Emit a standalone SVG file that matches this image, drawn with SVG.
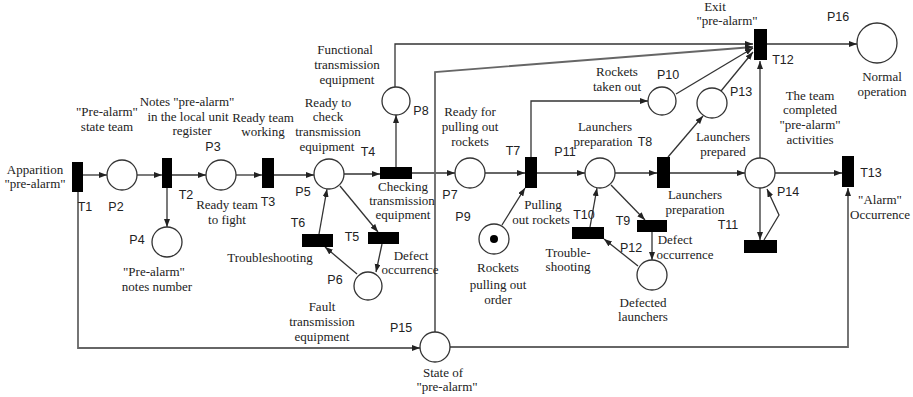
<svg xmlns="http://www.w3.org/2000/svg" width="913" height="397" viewBox="0 0 913 397">
<defs>
<marker id="ar" markerUnits="userSpaceOnUse" markerWidth="9" markerHeight="7" refX="8" refY="3" orient="auto">
<path d="M0,0 L8,3 L0,6 z" fill="#222"/>
</marker>
<style>
.pl{fill:#fff;stroke:#333;stroke-width:1.3}
.tr{fill:#000}
.c{fill:none;stroke:#333;stroke-width:1.3;marker-end:url(#ar)}
.n{fill:none;stroke:#333;stroke-width:1.3}
.f{fill:none;stroke:#666;stroke-width:1.8}
.fa{fill:none;stroke:#666;stroke-width:1.8;marker-end:url(#ar)}
.d{font-family:"Liberation Serif",serif;font-size:13px;fill:#222;text-anchor:middle}
.l{font-family:"Liberation Sans",Arial,sans-serif;font-size:12.5px;fill:#222;text-anchor:middle}
</style>
</defs>
<rect width="913" height="397" fill="#fff"/>

<g id="connectors">
<path class="c" d="M83,175 L107,175"/>
<path class="c" d="M137,175 L162,175"/>
<path class="c" d="M172,175 L206,175"/>
<path class="c" d="M236,175 L262,175"/>
<path class="c" d="M274,175 L314,175"/>
<path class="c" d="M344,174 L380,174"/>
<path class="c" d="M412,173 L455,173"/>
<path class="c" d="M485,173 L525,173"/>
<path class="c" d="M537,173 L585,173"/>
<path class="c" d="M615,173 L657,173"/>
<path class="c" d="M670,173 L745,173"/>
<path class="c" d="M775,173 L842,173"/>
<path class="c" d="M167,188 L167,227"/>
<path class="c" d="M396,167 L396,115"/>
<path class="c" d="M395,87 L395,44 L753,44"/>
<path class="c" d="M340,186 L378,232"/>
<path class="c" d="M382,244 L376,272"/>
<path class="c" d="M357,274 L325,247"/>
<path class="c" d="M319,234 L327,189"/>
<path class="c" d="M531,157 L531,101 L648,101"/>
<path class="c" d="M502,225 L525,188"/>
<path class="c" d="M676,94 L753,48"/>
<path class="c" d="M721,91 L753,52"/>
<path class="c" d="M668,157 L703,116"/>
<path class="c" d="M760,158 L760,61"/>
<path class="c" d="M767,44 L857,44"/>
<path class="c" d="M611,185 L645,220"/>
<path class="c" d="M652,232 L652,260"/>
<path class="c" d="M638,266 L604,239"/>
<path class="c" d="M590,227 L597,188"/>
<path class="c" d="M760,188 L760,240"/>
<path class="c" d="M764,240 L779,215 L767,189"/>
<path class="fa" d="M78,192 L78,348 L420,348"/>
<path class="fa" d="M450,347 L848,347 L848,188"/>
<path class="fa" d="M435,332 L435,72 L753,47"/>
</g>

<g id="T1"><rect class="tr" x="72" y="162" width="11" height="30"/><text class="l" x="85" y="211">T1</text>
<text class="d" x="35" y="174">Apparition</text><text class="d" x="35" y="188">"pre-alarm"</text></g>
<g id="P2"><circle class="pl" cx="122" cy="175" r="15"/><text class="l" x="116" y="211">P2</text>
<text class="d" x="107" y="116">"Pre-alarm"</text><text class="d" x="107" y="131">state team</text></g>
<g id="T2"><rect class="tr" x="162" y="158" width="10" height="30"/><text class="l" x="186" y="199">T2</text>
<text class="d" x="187" y="106">Notes "pre-alarm"</text><text class="d" x="188" y="121">in the local unit</text><text class="d" x="192" y="135">register</text></g>
<g id="P3"><circle class="pl" cx="221" cy="175" r="15"/><text class="l" x="213" y="151">P3</text>
<text class="d" x="227" y="209">Ready team</text><text class="d" x="227" y="224">to fight</text></g>
<g id="P4"><circle class="pl" cx="167" cy="242" r="15"/><text class="l" x="137" y="244">P4</text>
<text class="d" x="154" y="276">"Pre-alarm"</text><text class="d" x="157" y="291">notes number</text></g>
<g id="T3"><rect class="tr" x="262" y="158" width="12" height="30"/><text class="l" x="268" y="206">T3</text>
<text class="d" x="263" y="122">Ready team</text><text class="d" x="263" y="136">working</text></g>
<g id="P5"><circle class="pl" cx="329" cy="174" r="15"/><text class="l" x="303" y="196">P5</text>
<text class="d" x="328" y="107">Ready to</text><text class="d" x="328" y="121">check</text><text class="d" x="328" y="136">transmission</text><text class="d" x="327" y="151">equipment</text></g>
<g id="T4"><rect class="tr" x="380" y="167" width="32" height="12"/><text class="l" x="368" y="156">T4</text>
<text class="d" x="403" y="191">Checking</text><text class="d" x="402" y="205">transmission</text><text class="d" x="403" y="219">equipment</text></g>
<g id="P8"><circle class="pl" cx="396" cy="101" r="14"/><text class="l" x="421" y="115">P8</text>
<text class="d" x="345" y="54">Functional</text><text class="d" x="347" y="69">transmission</text><text class="d" x="347" y="84">equipment</text></g>
<g id="T5"><rect class="tr" x="368" y="232" width="31" height="12"/><text class="l" x="352" y="241">T5</text>
<text class="d" x="411" y="260">Defect</text><text class="d" x="410" y="274">occurrence</text></g>
<g id="T6"><rect class="tr" x="302" y="234" width="31" height="13"/><text class="l" x="298" y="227">T6</text>
<text class="d" x="270" y="262">Troubleshooting</text></g>
<g id="P6"><circle class="pl" cx="368" cy="286" r="14"/><text class="l" x="335" y="284">P6</text>
<text class="d" x="322" y="311">Fault</text><text class="d" x="322" y="326">transmission</text><text class="d" x="322" y="341">equipment</text></g>
<g id="P7"><circle class="pl" cx="470" cy="173" r="15"/><text class="l" x="450" y="199">P7</text>
<text class="d" x="470" y="116">Ready for</text><text class="d" x="470" y="131">pulling out</text><text class="d" x="470" y="146">rockets</text></g>
<g id="P9"><circle class="pl" cx="494" cy="239" r="15"/><circle cx="494" cy="239" r="4" fill="#000"/><text class="l" x="463" y="221">P9</text>
<text class="d" x="498" y="272">Rockets</text><text class="d" x="498" y="289">pulling out</text><text class="d" x="498" y="304">order</text></g>
<g id="T7"><rect class="tr" x="525" y="157" width="12" height="31"/><text class="l" x="513" y="155">T7</text>
<text class="d" x="543" y="209">Pulling</text><text class="d" x="541" y="224">out rockets</text></g>
<g id="P10"><circle class="pl" cx="662" cy="101" r="14"/><text class="l" x="668" y="79">P10</text>
<text class="d" x="617" y="76">Rockets</text><text class="d" x="617" y="91">taken out</text></g>
<g id="P11"><circle class="pl" cx="600" cy="173" r="15"/><text class="l" x="565" y="156">P11</text>
<text class="d" x="605" y="131">Launchers</text><text class="d" x="603" y="146">preparation</text></g>
<g id="T8"><rect class="tr" x="657" y="157" width="13" height="31"/><text class="l" x="645" y="146">T8</text>
<text class="d" x="695" y="199">Launchers</text><text class="d" x="695" y="214">preparation</text></g>
<g id="T9"><rect class="tr" x="637" y="220" width="30" height="12"/><text class="l" x="623" y="225">T9</text>
<text class="d" x="675" y="244">Defect</text><text class="d" x="685" y="259">occurrence</text></g>
<g id="T10"><rect class="tr" x="572" y="227" width="32" height="12"/><text class="l" x="584" y="219">T10</text>
<text class="d" x="568" y="257">Trouble-</text><text class="d" x="568" y="271">shooting</text></g>
<g id="P12"><circle class="pl" cx="652" cy="275" r="15"/><text class="l" x="631" y="252">P12</text>
<text class="d" x="643" y="307">Defected</text><text class="d" x="643" y="321">launchers</text></g>
<g id="P13"><circle class="pl" cx="712" cy="103" r="15"/><text class="l" x="741" y="96">P13</text>
<text class="d" x="723" y="141">Launchers</text><text class="d" x="723" y="156">prepared</text></g>
<g id="T12"><rect class="tr" x="754" y="29" width="13" height="31"/><text class="l" x="783" y="64">T12</text>
<text class="d" x="715" y="11">Exit</text><text class="d" x="727" y="25">"pre-alarm"</text></g>
<g id="P16"><circle class="pl" cx="877" cy="43" r="20"/><text class="l" x="838" y="21">P16</text>
<text class="d" x="882" y="81">Normal</text><text class="d" x="882" y="96">operation</text></g>
<g id="P14"><circle class="pl" cx="760" cy="173" r="15"/><text class="l" x="788" y="196">P14</text>
<text class="d" x="810" y="100">The team</text><text class="d" x="810" y="114">completed</text><text class="d" x="810" y="129">"pre-alarm"</text><text class="d" x="810" y="144">activities</text></g>
<g id="T11"><rect class="tr" x="744" y="240" width="33" height="13"/><text class="l" x="728" y="229">T11</text></g>
<g id="T13"><rect class="tr" x="842" y="156" width="12" height="31"/><text class="l" x="871" y="177">T13</text>
<text class="d" x="880" y="204">"Alarm"</text><text class="d" x="880" y="219">Occurrence</text></g>
<g id="P15"><circle class="pl" cx="435" cy="347" r="15"/><text class="l" x="401" y="332">P15</text>
<text class="d" x="443" y="377">State of</text><text class="d" x="447" y="391">"pre-alarm"</text></g>
</svg>
